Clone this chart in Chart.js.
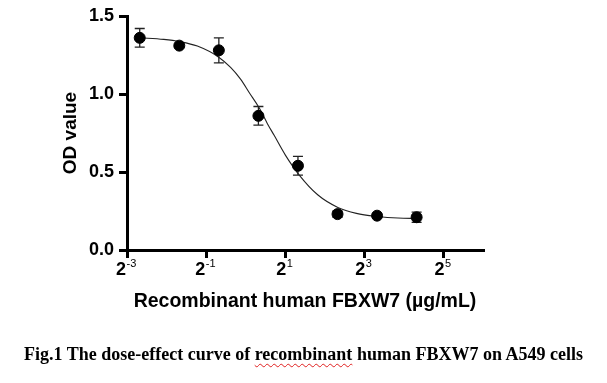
<!DOCTYPE html>
<html>
<head>
<meta charset="utf-8">
<script src="https://cdn.jsdelivr.net/npm/chart.js@4"></script>
<style>
  html, body { margin: 0; padding: 0; background: #fff; }
  #wrap { position: relative; width: 607px; height: 383px; }
  #caption { position: absolute; left: 0; width: 607px; top: 344px; text-align: center;
    font-family: "Liberation Serif", "Times New Roman", serif; font-weight: bold; font-size: 18px; color: #000; white-space: nowrap; }
  #caption .sp { text-decoration: underline wavy #e02020; text-decoration-thickness: 1px; text-underline-offset: 3px; }
</style>
</head>
<body>
<div id="wrap">
  <canvas id="c" width="607" height="383"></canvas>
  <div id="caption">Fig.1 The dose-effect curve of <span class="sp">recombinant</span> human FBXW7 on A549 cells</div>
</div>
<script>
// Concentrations (µg/mL)
const concentrations = [0.15625, 0.3125, 0.625, 1.25, 2.5, 5, 10, 20];
// Mean OD values
const odMeans = [1.36, 1.31, 1.28, 0.86, 0.54, 0.23, 0.22, 0.21];
// Error (SD)
const odErrors = [0.06, 0.01, 0.08, 0.06, 0.06, 0.02, 0.01, 0.033];
// Fitted curve
const curveX = [0.156, 0.238, 0.314, 0.429, 0.624, 0.768, 0.914, 1.072, 1.266, 1.464, 1.647, 2.0, 2.549, 3.531, 5.03, 6.96, 10.13, 14.4, 20.4];
const curveY = [1.361, 1.350, 1.336, 1.307, 1.236, 1.170, 1.095, 1.005, 0.912, 0.81, 0.735, 0.61, 0.482, 0.354, 0.273, 0.235, 0.215, 0.205, 0.202];
// Axis ticks
const xTickExponents = [-3, -1, 1, 3, 5];
const yTickValues = [0, 0.5, 1.0, 1.5];
const xTitle = 'Recombinant human FBXW7 (µg/mL)';
const yTitle = 'OD value';

const FONT = '"Liberation Sans", Arial, Helvetica, sans-serif';

const errorBars = {
  id: 'errorBars',
  beforeDatasetsDraw(chart) {
    const {ctx, scales: {x, y}} = chart;
    ctx.save();
    ctx.strokeStyle = '#222';
    ctx.lineWidth = 1.3;
    concentrations.forEach((c, i) => {
      const px = x.getPixelForValue(c);
      const top = y.getPixelForValue(odMeans[i] + odErrors[i]);
      const bot = y.getPixelForValue(odMeans[i] - odErrors[i]);
      ctx.beginPath();
      ctx.moveTo(px, top); ctx.lineTo(px, bot);
      ctx.moveTo(px - 5, top); ctx.lineTo(px + 5, top);
      ctx.moveTo(px - 5, bot); ctx.lineTo(px + 5, bot);
      ctx.stroke();
    });
    ctx.restore();
  }
};

const xPowerLabels = {
  id: 'xPowerLabels',
  afterDraw(chart) {
    const {ctx, scales: {x}} = chart;
    ctx.save();
    ctx.fillStyle = '#000';
    ctx.textBaseline = 'alphabetic';
    ctx.textAlign = 'left';
    xTickExponents.forEach(e => {
      const px = x.getPixelForValue(Math.pow(2, e));
      const base = '2', sup = String(e);
      ctx.font = 'bold 18px ' + FONT;
      const wb = ctx.measureText(base).width;
      ctx.font = '11px ' + FONT;
      const ws = ctx.measureText(sup).width;
      const start = px - (wb + ws) / 2 - 1;
      ctx.font = 'bold 18px ' + FONT;
      ctx.fillText(base, start, 275);
      ctx.font = '11px ' + FONT;
      ctx.fillText(sup, start + wb + 0.5, 267);
    });
    ctx.restore();
  }
};

new Chart(document.getElementById('c'), {
  type: 'scatter',
  data: {
    datasets: [
      {
        label: 'Fit',
        data: curveX.map((v, i) => ({x: v, y: curveY[i]})),
        showLine: true,
        borderColor: '#222',
        borderWidth: 1.1,
        pointRadius: 0,
        cubicInterpolationMode: 'monotone',
        order: 2
      },
      {
        label: 'OD',
        data: concentrations.map((v, i) => ({x: v, y: odMeans[i]})),
        backgroundColor: '#000',
        borderColor: '#000',
        pointRadius: 5.5,
        pointHoverRadius: 5.5,
        order: 1
      }
    ]
  },
  options: {
    responsive: false,
    animation: false,
    events: [],
    layout: { padding: { top: 16, right: 124, left: 0, bottom: 0 } },
    plugins: { legend: { display: false }, tooltip: { enabled: false } },
    scales: {
      x: {
        type: 'logarithmic',
        min: 0.125,
        max: 64,
        afterBuildTicks: s => { s.ticks = xTickExponents.map(e => ({ value: Math.pow(2, e) })); },
        afterFit: s => { s.height = 133; },
        border: { display: true, color: '#000', width: 3 },
        grid: { display: true, drawOnChartArea: false, drawTicks: true, tickLength: 8, color: '#000', lineWidth: 3 },
        ticks: { color: 'rgba(0,0,0,0)', autoSkip: false, maxRotation: 0,
          callback: (v) => '2^' + Math.round(Math.log2(v)),
          font: { family: FONT, size: 16, weight: 'bold' } },
        title: { display: true, text: xTitle, color: '#000',
          font: { family: FONT, size: 19.5, weight: 'bold' }, padding: { top: 0, bottom: 70 } }
      },
      y: {
        min: 0,
        max: 1.5,
        afterBuildTicks: s => { s.ticks = yTickValues.map(v => ({ value: v })); },
        afterFit: s => { s.width = 127; },
        border: { display: true, color: '#000', width: 3 },
        grid: { display: true, drawOnChartArea: false, drawTicks: true, tickLength: 8, color: '#000', lineWidth: 3 },
        ticks: { color: '#000', padding: 5, callback: v => Number(v).toFixed(1),
          font: { family: FONT, size: 18, weight: 'bold' } },
        title: { display: true, text: yTitle, color: '#000',
          font: { family: FONT, size: 19, weight: 'bold' }, padding: { top: 59, bottom: 0 } }
      }
    }
  },
  plugins: [errorBars, xPowerLabels]
});
</script>
</body>
</html>
